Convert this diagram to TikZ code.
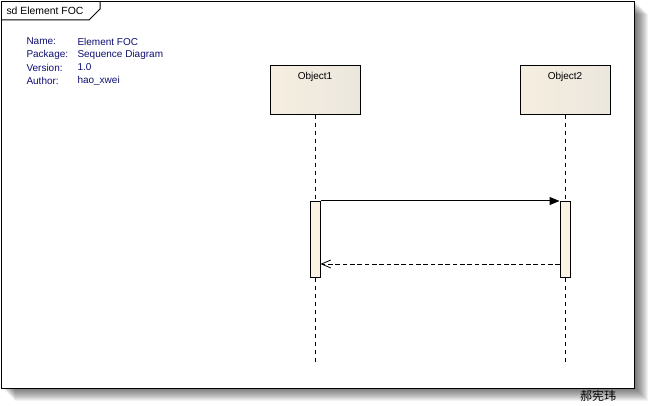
\documentclass[tikz,border=0pt]{standalone}
\usepackage{fontspec}
\setmainfont{Liberation Sans}
\newfontfamily\cjkfont{Noto Sans CJK SC}
\usetikzlibrary{arrows.meta}

\definecolor{infoblue}{RGB}{15,15,115}
\definecolor{headleft}{RGB}{245,238,224}
\definecolor{headright}{RGB}{236,231,222}
\definecolor{barfill}{RGB}{251,242,228}

\tikzset{every picture/.style={line width=0.75pt}}
\tikzset{
  smalltext/.style={inner sep=0.75pt, font=\fontsize{7.5}{9}\selectfont},
  infotext/.style={smalltext, anchor=west, text=infoblue},
  headbox/.style={draw, rectangle, minimum width=67.5pt, minimum height=36.5pt, inner sep=0pt,
    left color=headleft, right color=headright, line width=0.75pt},
  actbar/.style={draw, rectangle, fill=barfill, minimum width=7.5pt, minimum height=57pt, inner sep=0pt, line width=0.75pt},
  lifeline/.style={line width=0.75pt, dash pattern={on 3pt off 3pt}},
  callmsg/.style={line width=0.75pt, -{Triangle[length=7.5pt,width=6pt]}},
  replymsg/.style={line width=0.6pt, dash pattern={on 3.5pt off 2pt}, -{Straight Barb[length=7pt,width=6pt]}}
}

\begin{document}
\begin{tikzpicture}[x=0.75pt,y=0.75pt,yscale=-1,xscale=1]
        \useasboundingbox (0,0) rectangle (651,406);
        \fill[white] (0,0) rectangle (651,406);

        %Shadow
        \foreach \s in {1,...,13} {
          \fill[black, opacity=0.05] (1.5+\s,1.5+\s) rectangle (634.5+\s,388.5+\s);
        }
        %Frame
        \draw[fill=white] (1.5,1.5) rectangle (634.5,388.5);
        %Frame tab
        \draw (1.5,20) -- (89,20) -- (100,9) -- (100,1.5);

        % Text Node
        \node[smalltext, anchor=west, font=\fontsize{7.8}{9}\selectfont] (title) at (5,11) {sd Element FOC};

        % Text Node
        \node[infotext] (namekey) at (25,41.5) {Name:};
        \node[infotext] (pkgkey) at (25,54.5) {Package:};
        \node[infotext] (verkey) at (25,67.5) {Version:};
        \node[infotext] (authkey) at (25,80.5) {Author:};
        \node[infotext] (nameval) at (76,41.5) {Element FOC};
        \node[infotext] (pkgval) at (76,54.5) {Sequence Diagram};
        \node[infotext] (verval) at (76,67.5) {1.0};
        \node[infotext] (authval) at (76,80.5) {hao\_xwei};

        %Lifeline heads
        \node[headbox] (obj1) at (315,90) {};
        \node[smalltext, anchor=north] (obj1label) at ([yshift=4.5pt]obj1.north) {Object1};
        \node[headbox] (obj2) at (565,90) {};
        \node[smalltext, anchor=north] (obj2label) at ([yshift=4.5pt]obj2.north) {Object2};

        %Activation bars
        \node[actbar] (act1) at (315,239.5) {};
        \node[actbar] (act2) at (565,239.5) {};

        %Lifeline ends
        \coordinate (end1) at (315,365);
        \coordinate (end2) at (565,365);

        %Lifelines
        \draw[lifeline] (obj1.south) -- (act1.north);
        \draw[lifeline] (act1.south) -- (end1);
        \draw[lifeline] (obj2.south) -- (act2.north);
        \draw[lifeline] (act2.south) -- (end2);

        %Messages
        \draw[callmsg] (act1.north east) -- (act2.north west);
        \coordinate (reply2) at (560,264);
        \draw[replymsg] (reply2) -- (reply2 -| act1.east);

        % Text Node
        \node[inner sep=0pt, font=\cjkfont\fontsize{9}{10}\selectfont] (sign) at (598,396) {郝宪玮};
\end{tikzpicture}
\end{document}
